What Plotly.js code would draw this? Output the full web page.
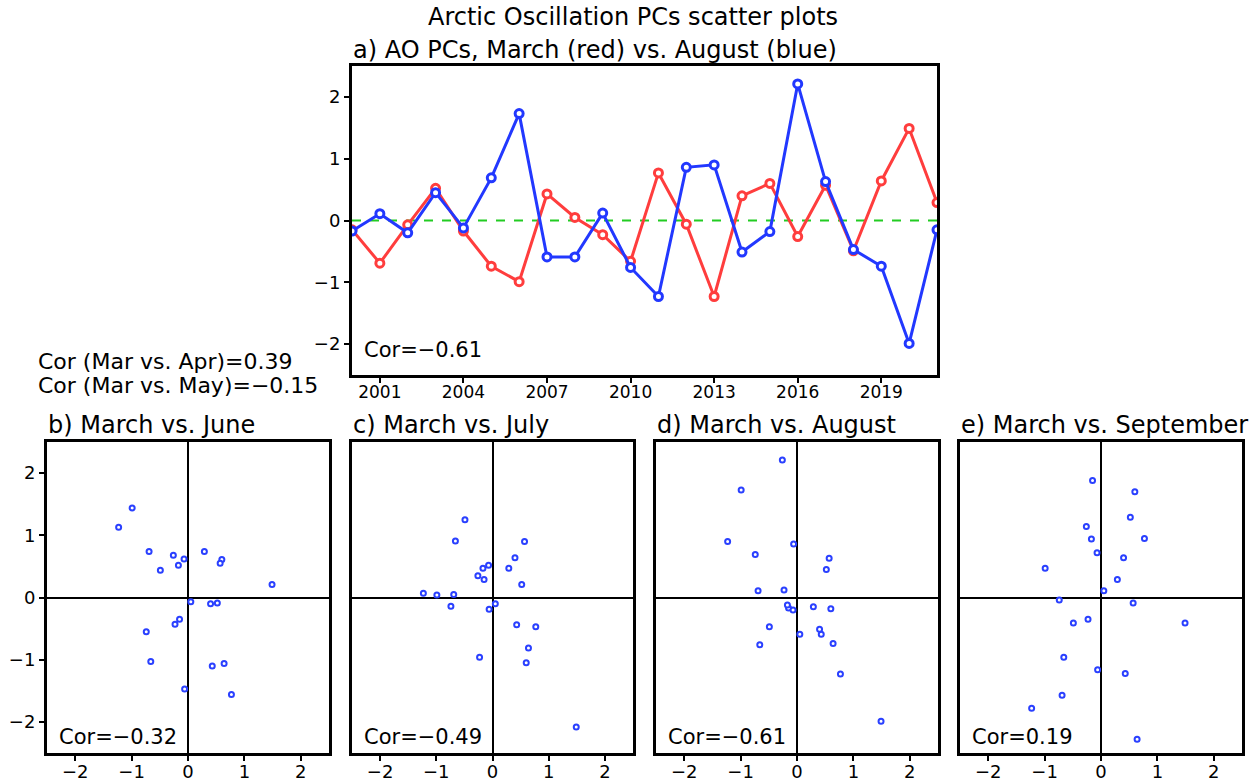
<!DOCTYPE html>
<html>
<head>
<meta charset="utf-8">
<script src="https://cdn.plot.ly/plotly-3.0.1.min.js"></script>
<style>html,body{margin:0;padding:0;background:#fff;}#chart{width:1255px;height:782px;}</style>
</head>
<body>
<div id="chart"></div>
<script>
// ---- data ----
const years = [2000,2001,2002,2003,2004,2005,2006,2007,2008,2009,2010,2011,2012,2013,2014,2015,2016,2017,2018,2019,2020,2021];
const pcMarch  = [-0.15,-0.69,-0.07,0.52,-0.17,-0.74,-0.99,0.43,0.05,-0.23,-0.66,0.77,-0.06,-1.23,0.40,0.60,-0.26,0.57,-0.49,0.64,1.49,0.29];
const pcJune   = [-0.35,0.74,0.62,-0.09,0.52,-0.55,1.44,-1.10,-0.07,-0.43,-1.03,-1.56,-1.47,1.13,-0.10,0.61,0.68,0.55,0.44,-1.06,0.21,0.74];
const pcJuly   = [0.29,0.05,0.52,0.21,0.47,-0.14,0.04,-0.44,-0.10,-0.96,0.91,-0.47,-0.19,0.07,0.64,-1.05,0.35,0.90,1.25,-0.81,-2.08,0.47];
const pcAugust = [-0.17,0.11,-0.20,0.45,-0.12,0.69,1.73,-0.59,-0.59,0.12,-0.76,-1.23,0.86,0.90,-0.51,-0.18,2.21,0.63,-0.47,-0.74,-1.99,-0.15];
const pcSept   = [1.88,-1.57,0.72,1.29,0.94,-0.04,0.47,-1.22,0.11,-0.35,-0.96,0.95,-1.16,-1.78,0.64,1.70,1.14,-0.09,-0.41,-2.28,-0.41,0.29];
const yearTicks = [2001,2004,2007,2010,2013,2016,2019];
const pcTicks = [-2,-1,0,1,2];
const panelTitles = ["b) March vs. June","c) March vs. July","d) March vs. August","e) March vs. September"];
const panelCors = ["Cor=\u22120.32","Cor=\u22120.49","Cor=\u22120.61","Cor=0.19"];
const topCor = "Cor=\u22120.61";
const corAprMay = ["Cor (Mar vs. Apr)=0.39","Cor (Mar vs. May)=\u22120.15"];
const mainTitle = "Arctic Oscillation PCs scatter plots";
const subTitle = "a) AO PCs, March (red) vs. August (blue)";

// ---- style ----
const FONT = "DejaVu Sans";
const RED = "#ff3d3d", BLUE = "#2238ff", DOT = "#2a40ff";
const W = 1255, H = 782;
const px = v => v / W, py = v => 1 - v / H;
const tickText = pcTicks.map(t => t < 0 ? '\u2212' + Math.abs(t) : String(t));

const traces = [
  {x: years, y: pcMarch, xaxis:'x', yaxis:'y', mode:'lines+markers', type:'scatter',
   line:{color:RED, width:3}, marker:{symbol:'circle', size:8, color:'white', line:{color:RED, width:3}}},
  {x: years, y: pcAugust, xaxis:'x', yaxis:'y', mode:'lines+markers', type:'scatter',
   line:{color:BLUE, width:3}, marker:{symbol:'circle', size:8, color:'white', line:{color:BLUE, width:3}}}
];
const months = [pcJune, pcJuly, pcAugust, pcSept];
months.forEach((m, i) => {
  traces.push({x: pcMarch, y: m, xaxis:'x'+(i+2), yaxis:'y'+(i+2), mode:'markers', type:'scatter',
    marker:{symbol:'circle', size:5, color:'white', line:{color:DOT, width:2}}});
});

const frame = {showline:true, mirror:true, linecolor:'black', linewidth:3, showgrid:false,
  ticks:'outside', ticklen:5, tickwidth:2, tickcolor:'black',
  tickfont:{family:FONT, size:18, color:'black'}};

const layout = {
  width:W, height:H, margin:{l:0,r:0,t:0,b:0}, showlegend:false,
  paper_bgcolor:'white', plot_bgcolor:'white',
  font:{family:FONT, color:'black'},
  xaxis: Object.assign({}, frame, {domain:[px(352), px(937)], range:[2000,2021], tickvals:yearTicks, zeroline:false,
          tickfont:{family:FONT, size:17, color:'black'}, ticklabelstandoff:-5}),
  yaxis: Object.assign({}, frame, {domain:[py(375), py(66)], range:[-2.5,2.5], tickvals:pcTicks, zeroline:false,
          ticktext: tickText}),
  shapes: [{type:'line', xref:'x domain', yref:'y', x0:0, x1:1, y0:0, y1:0, line:{color:'#22cc22', width:2, dash:'dash'}, layer:'below'}],
  annotations: []
};
const panelX = [[47,329],[352,633],[656,938],[960,1242]];
panelX.forEach((d, i) => {
  const n = i + 2;
  layout['xaxis'+n] = Object.assign({}, frame, {domain:[px(d[0]), px(d[1])], range:[-2.5,2.5], tickvals:pcTicks,
     ticktext: tickText, ticklabelstandoff:-5,
     zeroline:true, zerolinecolor:'black', zerolinewidth:2, anchor:'y'+n});
  layout['yaxis'+n] = Object.assign({}, frame, {domain:[py(753), py(442)], range:[-2.5,2.5], tickvals:pcTicks,
     ticktext: tickText,
     zeroline:true, zerolinecolor:'black', zerolinewidth:2, anchor:'x'+n,
     showticklabels: i === 0, ticks: i === 0 ? 'outside' : ''});
  layout.annotations.push({xref:'paper', yref:'paper', x:px(d[0]-1), y:py(425), xanchor:'left', yanchor:'middle',
     text:panelTitles[i], showarrow:false, font:{family:FONT, size:24, color:'black'}});
  layout.annotations.push({xref:'paper', yref:'paper', x:px(d[0]+10), y:py(737), xanchor:'left', yanchor:'middle',
     text:panelCors[i], showarrow:false, font:{family:FONT, size:21, color:'black'}});
});
layout.annotations.push(
  {xref:'paper', yref:'paper', x:px(633), y:py(17), xanchor:'center', yanchor:'middle', text:mainTitle, showarrow:false, font:{family:FONT, size:24, color:'black'}},
  {xref:'paper', yref:'paper', x:px(351), y:py(50), xanchor:'left', yanchor:'middle', text:subTitle, showarrow:false, font:{family:FONT, size:24, color:'black'}},
  {xref:'paper', yref:'paper', x:px(362), y:py(350), xanchor:'left', yanchor:'middle', text:topCor, showarrow:false, font:{family:FONT, size:21, color:'black'}},
  {xref:'paper', yref:'paper', x:px(36), y:py(361), xanchor:'left', yanchor:'middle', text:corAprMay[0], showarrow:false, font:{family:FONT, size:22, color:'black'}},
  {xref:'paper', yref:'paper', x:px(36), y:py(386), xanchor:'left', yanchor:'middle', text:corAprMay[1], showarrow:false, font:{family:FONT, size:22, color:'black'}}
);

Plotly.newPlot('chart', traces, layout, {displayModeBar:false, staticPlot:true});
</script>
</body>
</html>
